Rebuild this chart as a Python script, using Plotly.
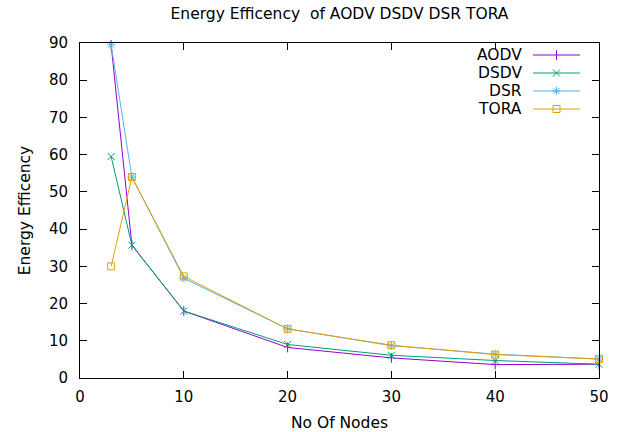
import plotly.graph_objects as go

nodes = [3, 5, 10, 20, 30, 40, 50]
aodv = [89.5, 35.7, 18.0, 8.2, 5.4, 3.6, 3.7]
dsdv = [59.5, 35.7, 18.0, 9.0, 6.1, 4.7, 3.7]
dsr = [89.5, 54.0, 26.8, 13.2, 8.7, 6.4, 5.1]
tora = [30.0, 54.0, 27.3, 13.2, 8.8, 6.3, 5.1]

names = ["AODV", "DSDV", "DSR", "TORA"]
series = [aodv, dsdv, dsr, tora]
colors = ["#9400d3", "#009e73", "#56b4e9", "#e69f00"]
symbols = ["line-ns-open", "x-thin-open", "asterisk-open", "square-open"]

FONT = "DejaVu Sans"
L, R, T, B = 80, 29, 43, 54
PW, PH = 628 - L - R, 432 - T - B

fig = go.Figure()

for name, vals, col, sym in zip(names, series, colors, symbols):
    fig.add_trace(go.Scatter(
        x=nodes, y=vals, mode="lines+markers", name=name,
        line=dict(color=col, width=1),
        marker=dict(symbol=sym, size=7, color=col, line=dict(color=col, width=1)),
        showlegend=False, cliponaxis=False,
    ))

# gnuplot-style key (text left, sample right) drawn on an overlay axis
row_px = [55, 73, 91, 109]
for i, (name, col, sym) in enumerate(zip(names, colors, symbols)):
    y = 3.5 - i
    fig.add_trace(go.Scatter(
        x=[0, 1], y=[y, y], mode="lines", line=dict(color=col, width=1),
        xaxis="x2", yaxis="y2", showlegend=False, hoverinfo="skip"))
    fig.add_trace(go.Scatter(
        x=[0.5], y=[y], mode="markers",
        marker=dict(symbol=sym, size=7, color=col, line=dict(color=col, width=1)),
        xaxis="x2", yaxis="y2", showlegend=False, hoverinfo="skip"))
    fig.add_annotation(x=(524 - L) / PW, y=(T + PH - row_px[i]) / PH,
                       xref="paper", yref="paper", text=name,
                       showarrow=False, xanchor="right", yanchor="middle",
                       font=dict(family=FONT, size=15.5, color="black"))

axis_common = dict(
    showgrid=False, zeroline=False, showline=True, linecolor="black", linewidth=1,
    mirror="ticks", ticks="inside", ticklen=7, tickcolor="black", automargin=False,
    tickfont=dict(family=FONT, size=15, color="black"),
)

fig.update_layout(
    width=628, height=432,
    margin=dict(l=L, r=R, t=T, b=B, autoexpand=False),
    plot_bgcolor="white", paper_bgcolor="white",
    title=dict(text="Energy Efficency\u00a0\u00a0of AODV DSDV DSR TORA",
               x=339.5 / 628, xanchor="center", y=1 - 14 / 432, yanchor="middle",
               font=dict(family=FONT, size=15.5, color="black")),
    xaxis=dict(range=[0, 50], dtick=10, tick0=0, ticklabelstandoff=5,
               title=dict(text="No Of Nodes", font=dict(family=FONT, size=15.5, color="black"), standoff=14),
               **axis_common),
    yaxis=dict(range=[0, 90], dtick=10, tick0=0, ticklabelstandoff=8,
               title=dict(text="Energy Efficency", font=dict(family=FONT, size=15.5, color="black"), standoff=14),
               **axis_common),
    xaxis2=dict(domain=[(533 - L) / PW, (580 - L) / PW], range=[0, 1], visible=False, anchor="y2"),
    yaxis2=dict(domain=[(T + PH - 118) / PH, (T + PH - 46) / PH], range=[0, 4], visible=False, anchor="x2"),
    showlegend=False,
)

fig.write_html("out.html")
